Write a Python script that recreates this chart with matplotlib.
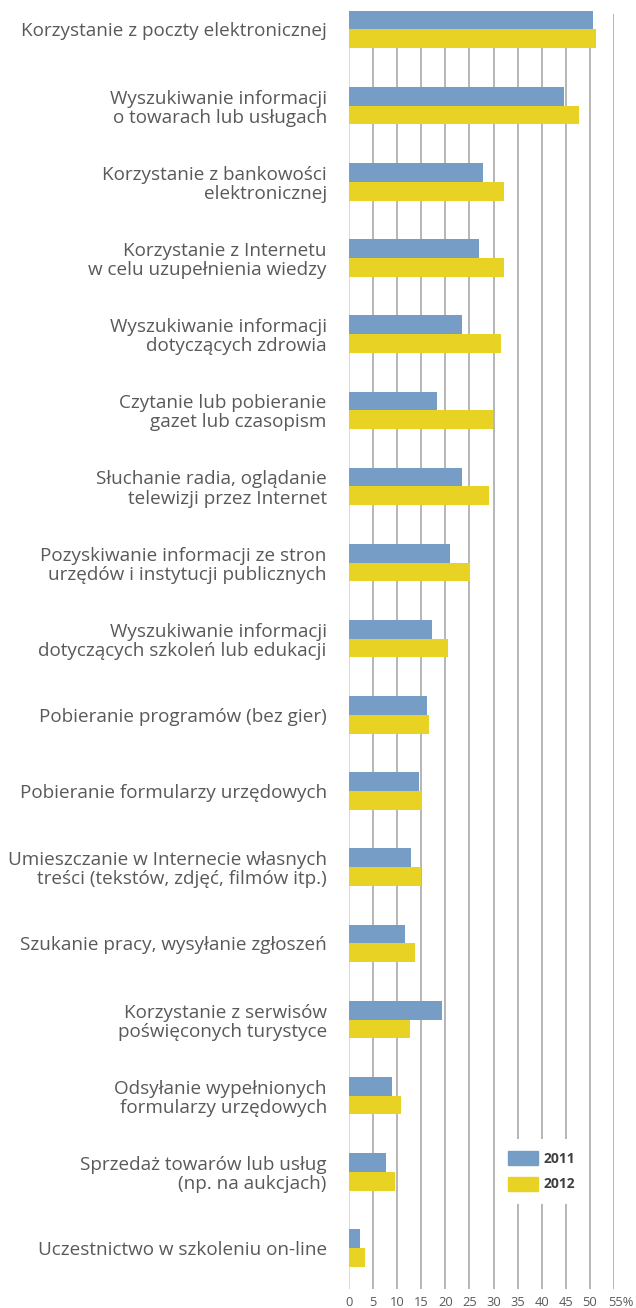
#!/usr/bin/env python
#######################################################################

import numpy as np
import matplotlib
matplotlib.use('Agg')
import matplotlib.pyplot as plt
import matplotlib.transforms as mtransforms
from matplotlib.patches import Patch

#######################################################################
# Data

categories = [
    'Korzystanie z poczty elektronicznej',
    'Wyszukiwanie informacji\no towarach lub usługach',
    'Korzystanie z bankowości\nelektronicznej',
    'Korzystanie z Internetu\nw celu uzupełnienia wiedzy',
    'Wyszukiwanie informacji\ndotyczących zdrowia',
    'Czytanie lub pobieranie\ngazet lub czasopism',
    'Słuchanie radia, oglądanie\ntelewizji przez Internet',
    'Pozyskiwanie informacji ze stron\nurzędów i instytucji publicznych',
    'Wyszukiwanie informacji\ndotyczących szkoleń lub edukacji',
    'Pobieranie programów (bez gier)',
    'Pobieranie formularzy urzędowych',
    'Umieszczanie w Internecie własnych\ntreści (tekstów, zdjęć, filmów itp.)',
    'Szukanie pracy, wysyłanie zgłoszeń',
    'Korzystanie z serwisów\npoświęconych turystyce',
    'Odsyłanie wypełnionych\nformularzy urzędowych',
    'Sprzedaż towarów lub usług\n(np. na aukcjach)',
    'Uczestnictwo w szkoleniu on-line',
]
vals_2011 = [50.6, 44.6, 27.8, 26.9, 23.4, 18.2, 23.4, 20.9, 17.2,
             16.2, 14.5, 12.9, 11.6, 19.3, 8.9, 7.7, 2.3]
vals_2012 = [51.2, 47.7, 32.1, 32.1, 31.5, 29.9, 29.0, 25.1, 20.5,
             16.6, 15.1, 14.9, 13.7, 12.6, 10.8, 9.5, 3.3]
xticks = [0, 5, 10, 15, 20, 25, 30, 35, 40, 45, 50, 55]
xticklabels = ['0', '5', '10', '15', '20', '25', '30', '35', '40', '45', '50', '55%']

#######################################################################
# Plotting

plt.rcParams['font.family'] = ['Open Sans', 'DejaVu Sans']
text_color = '#595959'
blue = '#759DC6'
yellow = '#E8D324'

fig = plt.figure(figsize=(6.36, 13.08), dpi=100)
ax = fig.add_axes([349/636, 1 - 1289/1308, (614 - 349)/636, 1289/1308])

pos = np.arange(len(categories))
h = 0.246
ax.barh(pos - h/2, vals_2011, height=h, color=blue, label='2011', zorder=3)
ax.barh(pos + h/2, vals_2012, height=h, color=yellow, label='2012', zorder=3)

ax.set_xlim(0, 55)
y_top, y_bot = -0.387, len(categories) - 1 + 0.538
ax.set_ylim(y_bot, y_top)

# vertical gridlines (start a little below the top of the axes)
grid_top = -0.203
for x in xticks:
    ax.vlines(x, grid_top, y_bot, color='#d9d9d9' if x == 0 else '#b5b5b5',
              lw=1.4, zorder=1)

ax.set_xticks(xticks)
ax.set_xticklabels(xticklabels, fontsize=9.3, color=text_color)
ax.tick_params(axis='x', length=0, pad=5)
last = ax.get_xticklabels()[-1]
last.set_horizontalalignment('right')
last.set_transform(last.get_transform() +
                   mtransforms.ScaledTranslation(20/100, 0, fig.dpi_scale_trans))

ax.set_yticks(pos)
ax.set_yticklabels(categories, fontsize=13.6, color=text_color,
                   linespacing=1.08)
ax.tick_params(axis='y', length=0, pad=16)

for s in ax.spines.values():
    s.set_visible(False)

handles = [Patch(color=blue, label='2011'), Patch(color=yellow, label='2012')]
leg = ax.legend(handles=handles, loc='lower left',
                bbox_to_anchor=((495 - 349)/265, (1289 - 1204)/1289),
                frameon=True, fancybox=False, edgecolor='none',
                facecolor='white', framealpha=1,
                handlelength=2.23, handleheight=1.15, labelspacing=0.8,
                handletextpad=0.36, borderpad=0.9, borderaxespad=0,
                prop={'weight': 'bold', 'size': 10})
for t in leg.get_texts():
    t.set_color('#404040')
leg.set_zorder(5)

fig.savefig('out.png', dpi=100)
